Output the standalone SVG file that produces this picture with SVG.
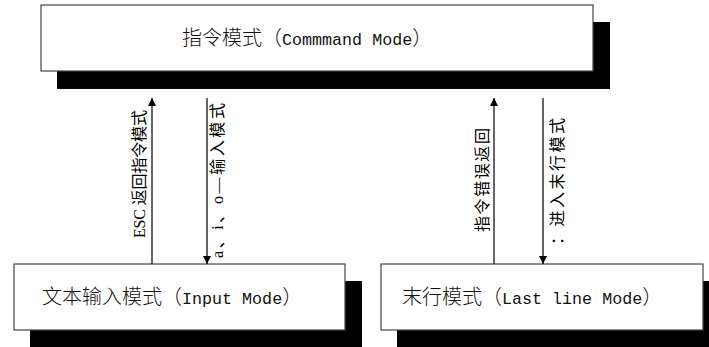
<svg xmlns="http://www.w3.org/2000/svg" width="709" height="347" viewBox="0 0 709 347">
<defs>
<style>
.box{fill:#fff;stroke:#444;stroke-width:1.2}
.shadow{fill:#000}
.t{font-family:"Liberation Mono","Noto Sans CJK SC",monospace;font-size:20px;font-weight:300;fill:#111}
.lat{font-size:16.7px}
.lbl{font-family:"Liberation Serif","Noto Sans CJK SC",sans-serif;font-size:16px;fill:#000}
.ln{stroke:#000;stroke-width:1.2;fill:none}
</style>
<marker id="ah" viewBox="0 0 10 10" refX="10" refY="5" markerWidth="10" markerHeight="8" markerUnits="userSpaceOnUse" orient="auto">
<path d="M0,0 L10,5 L0,10 Z" fill="#000"/>
</marker>
</defs>
<rect width="709" height="347" fill="#fff"/>
<g id="command-mode">
<rect class="shadow" x="57" y="22" width="553" height="67"/>
<rect class="box" x="41" y="5" width="552" height="66"/>
<text class="t" x="182" y="45">指令模式（<tspan class="lat">Commmand Mode</tspan>）</text>
</g>
<g id="input-mode">
<rect class="shadow" x="30" y="281" width="332" height="70"/>
<rect class="box" x="14" y="264" width="331" height="66"/>
<text class="t" x="42" y="304">文本输入模式（<tspan class="lat">Input Mode</tspan>）</text>
</g>
<g id="last-line-mode">
<rect class="shadow" x="397" y="281" width="330" height="70"/>
<rect class="box" x="381" y="264" width="322" height="66"/>
<text class="t" x="402" y="304">末行模式（<tspan class="lat">Last line Mode</tspan>）</text>
</g>
<g id="connectors">
<line class="ln" x1="152" y1="264" x2="152" y2="98" marker-end="url(#ah)"/>
<line class="ln" x1="207" y1="98" x2="207" y2="264" marker-end="url(#ah)"/>
<line class="ln" x1="494" y1="264" x2="494" y2="98" marker-end="url(#ah)"/>
<line class="ln" x1="543" y1="98" x2="543" y2="264" marker-end="url(#ah)"/>
<text class="lbl" transform="translate(145,238) rotate(-90)" textLength="128" lengthAdjust="spacing">ESC 返回指令模式</text>
<text class="lbl" transform="translate(223,258) rotate(-90)" textLength="155" lengthAdjust="spacing">a、i、o—输入模式</text>
<text class="lbl" transform="translate(488,232) rotate(-90)" textLength="104" lengthAdjust="spacing">指令错误返回</text>
<text class="lbl" transform="translate(563,245) rotate(-90)" textLength="127" lengthAdjust="spacing">：进入末行模式</text>
</g>
</svg>
